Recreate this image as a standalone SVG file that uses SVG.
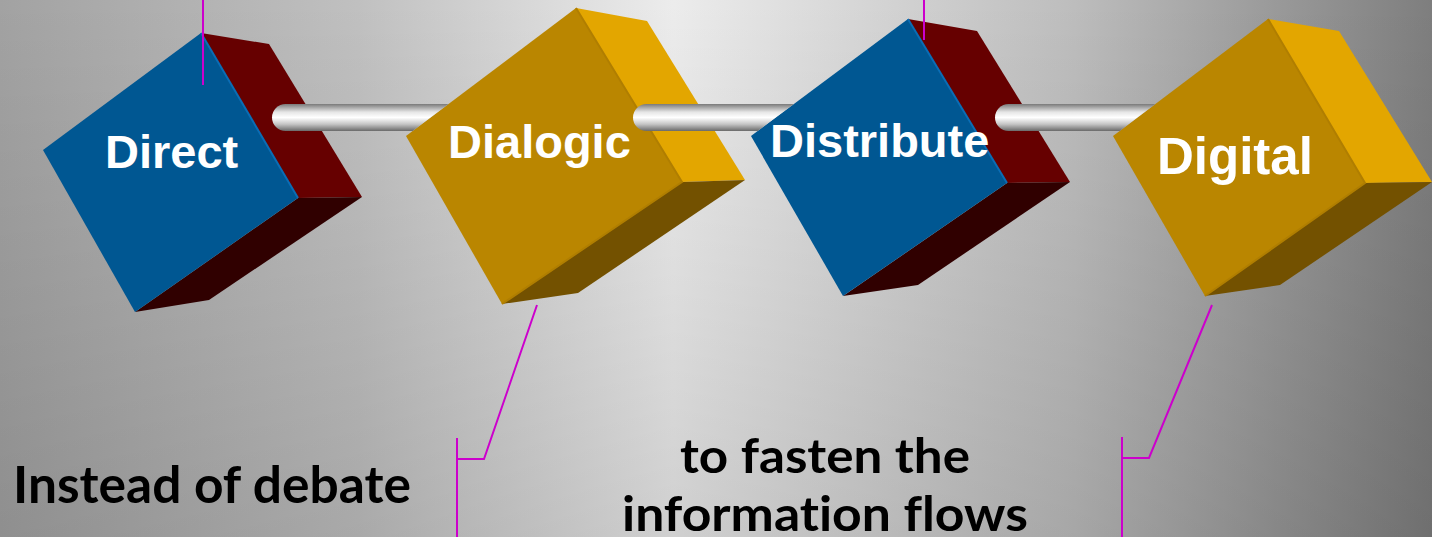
<svg xmlns="http://www.w3.org/2000/svg" width="1432" height="537" viewBox="0 0 1432 537">
  <defs>
    <linearGradient id="bgH" x1="0" y1="0" x2="1" y2="0">
      <stop offset="0" stop-color="#a2a2a2"/>
      <stop offset="0.25" stop-color="#c0c0c0"/>
      <stop offset="0.47" stop-color="#ececec"/>
      <stop offset="0.75" stop-color="#bdbdbd"/>
      <stop offset="1" stop-color="#7e7e7e"/>
    </linearGradient>
    <linearGradient id="bgV" x1="0" y1="0" x2="0" y2="1">
      <stop offset="0" stop-color="#000" stop-opacity="0"/>
      <stop offset="1" stop-color="#000" stop-opacity="0.12"/>
    </linearGradient>
    <linearGradient id="pipe" x1="0" y1="0" x2="0" y2="1">
      <stop offset="0" stop-color="#7a7a7a"/>
      <stop offset="0.3" stop-color="#e6e6e6"/>
      <stop offset="0.5" stop-color="#ffffff"/>
      <stop offset="0.75" stop-color="#c4c4c4"/>
      <stop offset="1" stop-color="#6a6a6a"/>
    </linearGradient>
    <style>
      .blue-front { fill: #005792; }
      .blue-edge { stroke: #0a6db5; stroke-width: 2; fill: none; }
      .red-side { fill: #660000; }
      .red-bottom { fill: #300000; }
      .gold-front { fill: #ba8600; }
      .gold-edge { stroke: #b07e00; stroke-width: 2; fill: none; }
      .gold-side { fill: #e3a600; }
      .gold-bottom { fill: #735100; }
      .label { font-family: "Liberation Sans", Arial, sans-serif; font-weight: bold; fill: #ffffff; }
      .note { font-family: Lato, "Open Sans", sans-serif; font-weight: bold; fill: #000000; font-variant-ligatures: none; }
      .callout { stroke: #cc00cc; stroke-width: 2; fill: none; }
      .pipe { fill: url(#pipe); }
    </style>
  </defs>

  <rect x="0" y="0" width="1432" height="537" fill="url(#bgH)"/>
  <rect x="0" y="0" width="1432" height="537" fill="url(#bgV)"/>

  <g id="node-direct">
    <polygon class="red-side" points="201,33 269,44 362,197 298,198"/>
    <polygon class="red-bottom" points="298,198 362,197 209,300 135,312"/>
    <polygon class="blue-front" points="201,33 43,150 135,312 298,198"/>
    <polyline class="blue-edge" points="201,33 298,198"/>
    <text class="label" x="105" y="168" font-size="47">Direct</text>
  </g>

  <g id="node-dialogic">
    <polygon class="gold-side" points="576,8 647,21 745,180 682,182"/>
    <polygon class="gold-bottom" points="682,182 745,180 578,293 502,304"/>
    <polygon class="gold-front" points="576,8 406,136 502,304 682,182"/>
    <polyline class="gold-edge" points="576,8 682,182 502,304"/>
    <text class="label" x="448" y="158" font-size="47">Dialogic</text>
  </g>

  <g id="node-distribute">
    <polygon class="red-side" points="908,19 977,31 1070,182 1007,183"/>
    <polygon class="red-bottom" points="1007,183 1070,182 918,285 843,296"/>
    <polygon class="blue-front" points="908,19 751,136 843,296 1007,183"/>
    <polyline class="blue-edge" points="908,19 1007,183"/>
    <text class="label" x="770" y="157" font-size="47">Distribute</text>
  </g>

  <g id="node-digital">
    <polygon class="gold-side" points="1268,19 1339,31 1432,182 1365,183"/>
    <polygon class="gold-bottom" points="1365,183 1432,182 1280,285 1205,296"/>
    <polygon class="gold-front" points="1268,19 1113,136 1205,296 1365,183"/>
    <polyline class="gold-edge" points="1268,19 1365,183 1205,296"/>
    <text class="label" x="1157" y="174" font-size="51">Digital</text>
  </g>

  <g id="note-debate">
    <text class="note" x="13" y="503" font-size="52" textLength="398" lengthAdjust="spacingAndGlyphs">Instead of debate</text>
  </g>

  <g id="note-flows">
    <text class="note" x="680" y="473" font-size="47" textLength="290" lengthAdjust="spacingAndGlyphs">to fasten the</text>
    <text class="note" x="622" y="531" font-size="47" textLength="406" lengthAdjust="spacingAndGlyphs">information flows</text>
  </g>

  <g id="connectors">
    <path class="pipe" d="M285.5,104 L448.5,104 L412.6,131 L285.5,131 A13.5,13.5 0 0 1 285.5,104 Z"/>
    <path class="pipe" d="M646.5,104 L793.9,104 L757.7,131 L646.5,131 A13.5,13.5 0 0 1 646.5,104 Z"/>
    <path class="pipe" d="M1008.5,104 L1155.4,104 L1119.6,131 L1008.5,131 A13.5,13.5 0 0 1 1008.5,104 Z"/>
    <line class="callout" x1="203" y1="0" x2="203" y2="85"/>
    <line class="callout" x1="924" y1="0" x2="924" y2="40"/>
    <polyline class="callout" points="537,305 484,459 457,459"/>
    <line class="callout" x1="457" y1="438" x2="457" y2="537"/>
    <polyline class="callout" points="1212,305 1149,458 1122,458"/>
    <line class="callout" x1="1122" y1="437" x2="1122" y2="537"/>
  </g>
</svg>
